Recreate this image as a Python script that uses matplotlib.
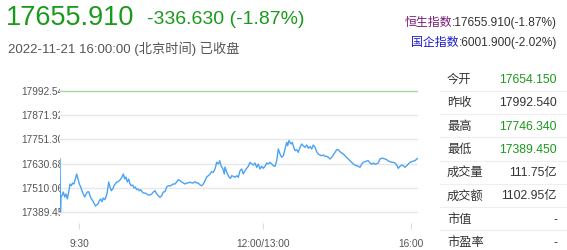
import matplotlib
matplotlib.use("Agg")
import matplotlib.pyplot as plt

plt.rcParams['font.family'] = ['Liberation Sans', 'Noto Sans CJK SC', 'DejaVu Sans']

W, H = 567, 251

# intraday trace: time step from open, index level
t = [0, 0.5, 1, 2, 3.3, 4.7, 6, 7.3, 8.7, 10, 11.3, 12.7, 14, 15.3, 16.7, 18, 19.3,
     20.7, 22, 23.3, 24.7, 26, 27.3, 28.7, 30, 31.3, 32.7, 34, 35.3, 36.7, 38, 39.3,
     40.7, 42, 43.3, 44.7, 46, 47.3, 48.7, 50, 51.3, 52.7, 54, 55.3, 56.7, 58, 59.3,
     60.7, 62, 63.3, 64.7, 66, 67.3, 68.7, 70, 71.3, 72.7, 74, 75.3, 76.7, 78, 79.3,
     80.7, 82, 83.3, 85, 86.7, 88.3, 90, 91.7, 93.3, 95, 96.7, 98.3, 100, 101.7, 103.3,
     105, 106.7, 108.3, 110, 111.7, 113.3, 115, 116.7, 118.3, 120, 121.7, 123.3, 125,
     126.7, 128.3, 130, 131.7, 133.3, 135, 136.7, 138.3, 140, 141.7, 143.3, 145, 146.7,
     148.3, 150, 151.7, 153.3, 155, 156.7, 158.3, 159.7, 161, 163, 164.3, 165, 167,
     169, 170.5, 171.7, 173.3, 175, 176.7, 178.3, 180, 181.7, 183.3, 185, 186.7, 188.3,
     190, 191.7, 193.3, 195, 196.7, 198.3, 200, 201.7, 203.3, 205, 206.7, 208.3, 210,
     211.7, 213.3, 215, 216.7, 218.3, 220, 221.7, 223.3, 225, 226.7, 227.7, 229, 231,
     232.3, 233.7, 235, 236.7, 238.3, 240, 241.7, 243.3, 245, 246.7, 248.3, 250, 251.7,
     253.3, 255, 256.7, 258.3, 260, 261.7, 263.3, 265, 266.7, 268.3, 270, 271.7, 273.3,
     275, 276.7, 278.3, 280, 281.7, 283.3, 285, 286.7, 288.3, 290, 291.7, 293.3, 295,
     296.7, 298.3, 300, 301.7, 303.3, 305, 306.7, 308.3, 310, 311.7, 313.3, 315, 316.7,
     318.3, 320, 321.7, 323.3, 325, 326.7, 328.3, 330, 331.7, 333.3, 335, 336.7, 338.3,
     340, 341.7, 343.3, 345, 346.7, 348.3, 350, 351.7, 353.3, 355, 356.7, 357.5]
level = [17654.15, 17389.45, 17469.2, 17470.7, 17489.1, 17464.2, 17479.2, 17454.3,
         17489.1, 17529.0, 17520.5, 17534.0, 17529.0, 17553.9, 17578.9, 17553.9,
         17529.0, 17514.1, 17495.6, 17479.2, 17464.2, 17479.2, 17489.1, 17490.6,
         17470.7, 17454.3, 17445.8, 17434.3, 17419.4, 17424.4, 17429.4, 17445.8,
         17454.3, 17440.8, 17459.2, 17450.7, 17464.2, 17489.1, 17539.0, 17514.1,
         17495.6, 17504.1, 17520.5, 17529.0, 17539.0, 17540.5, 17545.4, 17553.9,
         17563.9, 17578.9, 17553.9, 17563.9, 17539.0, 17553.9, 17529.0, 17520.5,
         17524.0, 17509.1, 17514.1, 17500.6, 17504.1, 17495.6, 17500.6, 17490.6,
         17484.1, 17484.1, 17479.2, 17474.2, 17474.2, 17479.2, 17489.1, 17495.6,
         17479.2, 17470.7, 17462.7, 17470.7, 17489.1, 17490.6, 17514.1, 17520.5,
         17519.0, 17524.0, 17529.0, 17529.0, 17539.0, 17550.4, 17545.4, 17539.0,
         17534.0, 17529.0, 17534.0, 17534.0, 17539.0, 17534.0, 17534.0, 17540.5,
         17534.0, 17534.0, 17524.0, 17520.5, 17529.0, 17545.4, 17563.9, 17570.4,
         17578.9, 17590.3, 17587.3, 17603.7, 17637.1, 17628.7, 17645.1, 17620.2,
         17603.7, 17578.9, 17613.7, 17583.8, 17563.9, 17557.4, 17570.4, 17567.4,
         17562.4, 17570.4, 17562.4, 17595.3, 17603.7, 17578.9, 17595.3, 17607.2,
         17617.2, 17637.1, 17628.7, 17623.7, 17633.7, 17612.2, 17628.7, 17603.7,
         17617.2, 17607.2, 17617.2, 17633.7, 17628.7, 17637.1, 17628.7, 17620.2,
         17617.2, 17645.1, 17703.4, 17678.5, 17662.1, 17670.0, 17703.4, 17736.8,
         17719.9, 17746.34, 17728.3, 17736.8, 17711.9, 17695.0, 17699.9, 17687.0,
         17711.9, 17728.3, 17719.9, 17711.9, 17723.4, 17706.9, 17715.9, 17703.4,
         17723.4, 17711.9, 17690.0, 17678.5, 17673.5, 17670.0, 17673.5, 17667.1,
         17667.1, 17662.1, 17653.6, 17662.1, 17673.5, 17687.0, 17699.9, 17699.9,
         17690.0, 17683.5, 17678.5, 17670.0, 17662.1, 17653.6, 17645.1, 17637.1,
         17628.7, 17623.7, 17620.2, 17617.2, 17612.2, 17628.7, 17637.1, 17640.1,
         17643.6, 17645.1, 17633.7, 17627.2, 17633.7, 17627.2, 17630.2, 17633.7,
         17653.6, 17657.1, 17657.1, 17653.6, 17650.1, 17643.6, 17640.1, 17637.1,
         17637.1, 17633.7, 17623.7, 17607.2, 17617.2, 17623.7, 17620.2, 17612.2,
         17620.2, 17628.7, 17637.1, 17640.1, 17643.6, 17645.1, 17653.6, 17655.91]

prev_close = 17992.54
low = 17389.45
tick_pos = [19, 203, 351]
tick_labels = ['9:30', '12:00/13:00', '16:00']

row_names = ['今开', '昨收', '最高', '最低', '成交量', '成交额', '市值', '市盈率']
row_values = ['17654.150', '17992.540', '17746.340', '17389.450', '111.75亿', '1102.95亿', '-', '-']
row_green = [True, False, True, True, False, False, False, False]

GREEN = '#1a9a1a'
GRAY = '#555555'


def fx(x):
    return x / W


def fy(y):
    return 1 - y / H


fig = plt.figure(figsize=(W / 100, H / 100), dpi=100)
fig.patch.set_facecolor('white')

# main chart area
ax_box = [fx(60), fy(224), (418 - 60) / W, (224 - 80) / H]
ax = fig.add_axes(ax_box)
span = prev_close - low
ylim = (low - span * 11 / 121, prev_close + span * 12 / 121)
levels = [low + span * i / 5 for i in range(6)]

for v in levels[:-1]:
    ax.axhline(v, color='#e8e8e8', lw=1, zorder=1)
ax.axhline(prev_close, color='#a0d8a0', lw=1, zorder=2)
ax.plot(t, level, color='#4aa3f5', lw=1.0, zorder=3)
ax.set_xlim(0, 358)
ax.set_ylim(*ylim)
for s in ax.spines.values():
    s.set_visible(False)
ax.set_yticks([])
ax.set_xticks(tick_pos)
ax.set_xticklabels(tick_labels, fontsize=7.3, color=GRAY)
ax.tick_params(axis='x', length=4, width=0.8, color='#dddddd', pad=7)

# y labels, clipped at the chart edge
lax = fig.add_axes([0, ax_box[1], fx(60), ax_box[3]])
lax.set_xlim(0, 60)
lax.set_ylim(*ylim)
lax.axis('off')
for v in levels:
    lax.text(21, v, f'{v:.3f}', fontsize=7.3, color=GRAY, va='center', ha='left', clip_on=True)

# header
fig.text(fx(6), fy(18), '17655.910', fontsize=19.5, color=GREEN, va='center', ha='left')
fig.text(fx(147), fy(19), '-336.630 (-1.87%)', fontsize=14, color=GREEN, va='center', ha='left')
fig.text(fx(8), fy(49), '2022-11-21 16:00:00 (北京时间) 已收盘', fontsize=9.5, color=GRAY,
         va='center', ha='left')

hs = fig.text(fx(557), fy(23), ':17655.910(-1.87%)', fontsize=8.6, color='#333333', va='center', ha='right')
fig.canvas.draw()
bb = hs.get_window_extent()
fig.text(bb.x0 / fig.dpi / fig.get_figwidth(), fy(23), '恒生指数', fontsize=8.6, color='#7a1a7a',
         va='center', ha='right')
gq = fig.text(fx(557), fy(43), ':6001.900(-2.02%)', fontsize=8.6, color='#333333', va='center', ha='right')
bb = gq.get_window_extent()
fig.text(bb.x0 / fig.dpi / fig.get_figwidth(), fy(43), '国企指数', fontsize=8.6, color='#1a1acc',
         va='center', ha='right')

# quote table
row_y0, row_h = 80, 23.3
for i, (name, val, g) in enumerate(zip(row_names, row_values, row_green)):
    y = row_y0 + i * row_h
    fig.text(fx(447), fy(y), name, fontsize=8.8, color='#333333', va='center', ha='left')
    fig.text(fx(557), fy(y), val, fontsize=8.8, color=GREEN if g else '#333333', va='center', ha='right')
    if i < len(row_names) - 1:
        fig.add_artist(plt.Line2D([fx(440), 1], [fy(y + row_h / 2)] * 2, color='#eeeeee', lw=0.8))

fig.savefig('out.png', dpi=100, facecolor='white')
